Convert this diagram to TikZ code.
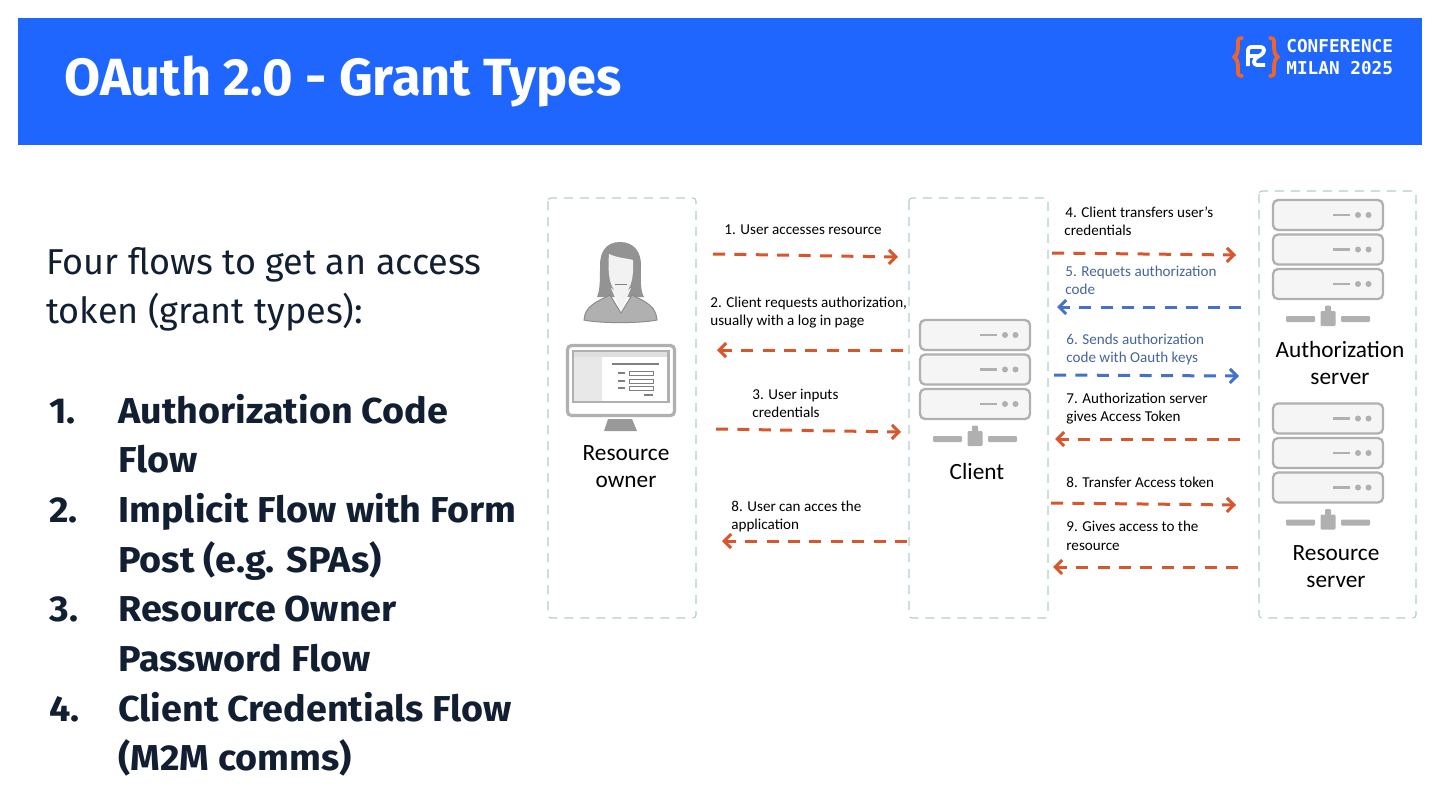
\documentclass[tikz,border=0pt]{standalone}
\usepackage{fontspec}
\setmainfont{Fira Sans}
\newfontfamily\itemf[FakeStretch=1.048]{Fira Sans}
\newfontfamily\lab{Carlito}
\newfontfamily\mon{DejaVu Sans Mono}
\usetikzlibrary{arrows.meta}
\definecolor{bannerblue}{HTML}{1F66FF}
\definecolor{inkdark}{HTML}{121F33}
\definecolor{boxline}{HTML}{B3CFCB}
\definecolor{flowor}{HTML}{D9552B}
\definecolor{flowbl}{HTML}{4472C4}
\definecolor{flowtxt}{HTML}{46659C}
\definecolor{srvgray}{HTML}{B0B0B0}
\definecolor{srvfill}{HTML}{F5F5F5}
\definecolor{logoor}{HTML}{F0642A}
\tikzset{
  x=0.5pt,y=-0.5pt,
  zone/.style={draw=boxline,line width=0.55pt,dash pattern=on 4.5pt off 3.5pt,rounded corners=1.5pt},
  flowline/.style={line width=1.5pt,dash pattern=on 6pt off 4.7pt,-{Straight Barb[length=3.5pt,width=7pt,line width=1.5pt]}},
  oflow/.style={flowline,draw=flowor},
  bflow/.style={flowline,draw=flowbl},
  lbl/.style={anchor=base west,inner sep=0pt,font=\lab\fontsize{7.55}{8}\selectfont,text=black},
  blbl/.style={lbl,text=flowtxt},
  actor/.style={anchor=base,inner sep=0pt,font=\lab\fontsize{11.65}{12}\selectfont,text=black},
  paratxt/.style={anchor=base west,inner sep=0pt,font=\fontsize{18}{20}\selectfont,text=inkdark},
  itemtxt/.style={anchor=base west,inner sep=0pt,font=\itemf\fontsize{18}{20}\selectfont\bfseries,text=inkdark},
  srow/.style={draw=srvgray,fill=srvfill,line width=1.15pt,rounded corners=2.5pt},
  sdet/.style={draw=srvgray,line width=1.1pt},
  logot/.style={anchor=base west,inner sep=0pt,font=\mon\bfseries\fontsize{8.85}{9}\selectfont,text=white},
  bracel/.style={draw=logoor,line width=1.9pt,line cap=round,line join=round},
  logoe/.style={draw=white,line width=1.9pt,line join=round,rounded corners=1.5pt},
}
\newcommand{\srvrow}[2]{% centre x, top y
  \draw[srow] (#1-55,#2) rectangle (#1+55,#2+30);
  \draw[sdet] (#1+5,#2+15) -- (#1+22,#2+15);
  \fill[srvgray] (#1+30,#2+15) circle (3) (#1+40.5,#2+15) circle (3);
}
\newcommand{\srvstack}[2]{% centre x, top y
  \srvrow{#1}{#2}\srvrow{#1}{#2+34.5}\srvrow{#1}{#2+69}
  \fill[srvgray,rounded corners=0.6pt] (#1-42,#2+116) rectangle (#1-13,#2+122);
  \fill[srvgray,rounded corners=0.6pt] (#1+13,#2+116) rectangle (#1+42,#2+122);
  \fill[srvgray,rounded corners=0.6pt] (#1-7.5,#2+111) rectangle (#1+7.5,#2+126);
  \fill[srvgray,rounded corners=0.6pt] (#1-3,#2+105.5) rectangle (#1+3,#2+112);
}
\begin{document}
\begin{tikzpicture}
\useasboundingbox (0,0) rectangle (1440,810);
\fill[white] (0,0) rectangle (1440,810);
\fill[bannerblue] (18,18) rectangle (1422,145);
\node[anchor=base west,inner sep=0pt,font=\fontsize{26.15}{28}\selectfont\bfseries,text=white] (title) at (64,95) {OAuth 2.0 - Grant Types};

% logo
\draw[bracel] (1242,38) .. controls (1237,38) and (1238,41) .. (1238,46) .. controls (1238,52) and (1237,55) .. (1234,57) .. controls (1237,59) and (1238,62) .. (1238,68) .. controls (1238,73) and (1237,76) .. (1242,76);
\draw[bracel] (1270,38) .. controls (1275,38) and (1274,41) .. (1274,46) .. controls (1274,52) and (1275,55) .. (1278,57) .. controls (1275,59) and (1274,62) .. (1274,68) .. controls (1274,73) and (1275,76) .. (1270,76);
\draw[logoe] (1248,66) -- (1248,47) -- (1264,47) -- (1264,53) -- (1254,59) -- (1254,65) -- (1265,65);
\draw[logoe] (1248,56) -- (1258,56);
\node[logot] (lg1) at (1286,52) {CONFERENCE};
\node[logot] (lg2) at (1286,74) {MILAN 2025};

% left text
\node[paratxt] (p1) at (46,274) {Four flows to get an access};
\node[paratxt] (p2) at (46,323) {token (grant types):};
\node[itemtxt] (n1) at (49,423) {1.};
\node[itemtxt] (t1a) at (118,423) {Authorization Code};
\node[itemtxt] (t1b) at (118,472) {Flow};
\node[itemtxt] (n2) at (49,522) {2.};
\node[itemtxt] (t2a) at (118,522) {Implicit Flow with Form};
\node[itemtxt] (t2b) at (118,572) {Post (e.g. SPAs)};
\node[itemtxt] (n3) at (49,621) {3.};
\node[itemtxt] (t3a) at (118,621) {Resource Owner};
\node[itemtxt] (t3b) at (118,671) {Password Flow};
\node[itemtxt] (n4) at (49,721) {4.};
\node[itemtxt] (t4a) at (118,721) {Client Credentials Flow};
\node[itemtxt] (t4b) at (118,770) {(M2M comms)};

% zones
\draw[zone] (548,198) rectangle (696,618);
\draw[zone] (909,198) rectangle (1048,618);
\draw[zone] (1259,191) rectangle (1416,618);

% person
\fill[gray!85] (620,242) .. controls (606,242) and (600,252) .. (600,265) .. controls (600,280) and (600,290) .. (597,297) -- (644,297) .. controls (640,290) and (641,280) .. (641,265) .. controls (641,252) and (634,242) .. (620,242) -- cycle;
\fill[srvgray,draw=gray!90,line width=0.5pt] (584,320) .. controls (585,306) and (596,302) .. (610,295) -- (621,313) -- (632,295) .. controls (646,302) and (656,306) .. (657,320) .. controls (640,323.5) and (600,323.5) .. (584,320) -- cycle;
\fill[gray!10] (609,254) .. controls (618,258) and (625,258) .. (633,260) .. controls (634,280) and (630,293) .. (621,294) .. controls (612,293) and (607,280) .. (609,254) -- cycle;
\fill[gray!10] (611,288) -- (621,312) -- (631,288) -- (621,294) -- cycle;
\draw[gray,line width=0.3pt] (615,284) -- (627,284);

% monitor
\draw[srvgray,line width=1.6pt,rounded corners=2pt,fill=white] (567.5,345.5) rectangle (674.5,415.5);
\fill[srvgray] (572,350) rectangle (670,403);
\fill[white] (574,357) rectangle (667,401);
\fill[gray!18] (574,357) rectangle (602,401);
\fill[gray!25] (574,352) rectangle (667,357);
\draw[gray,line width=0.7pt] (612,364) -- (659,364);
\draw[gray,line width=0.7pt] (618,373) -- (625,373) (618,381) -- (625,381) (618,388) -- (625,388);
\draw[gray,line width=0.5pt] (629,371) rectangle (653,375) (629,379) rectangle (653,383) (629,386) rectangle (653,390);
\draw[gray,line width=0.7pt] (644,395) -- (653,395);
\fill[gray!80] (608,419) -- (632,419) -- (637,431) -- (604,431) -- cycle;

% servers
\srvstack{975}{320}
\srvstack{1328}{200}
\srvstack{1328}{403.5}

% names
\node[actor] (roa) at (626,460) {Resource};
\node[actor] (rob) at (626,487) {owner};
\node[actor] (cl) at (977,479) {Client};
\node[actor] (aua) at (1340,357) {Authorization};
\node[actor] (aub) at (1340,384) {server};
\node[actor] (rsa) at (1336,560) {Resource};
\node[actor] (rsb) at (1336,587) {server};

% connector ends
\coordinate (a1s) at (713,254); \coordinate (a1e) at (898,257);
\coordinate (a2s) at (903,350); \coordinate (a2e) at (717,350);
\coordinate (a3s) at (716,429); \coordinate (a3e) at (901,432);
\coordinate (a8s) at (907,541); \coordinate (a8e) at (722,541);
\coordinate (b4s) at (1052,253); \coordinate (b4e) at (1236,255);
\coordinate (b5s) at (1241,307); \coordinate (b5e) at (1057,307);
\coordinate (b6s) at (1054,375); \coordinate (b6e) at (1239,376);
\coordinate (b7s) at (1240,439); \coordinate (b7e) at (1055,439);
\coordinate (b8s) at (1051,503); \coordinate (b8e) at (1236,505);
\coordinate (b9s) at (1238,567); \coordinate (b9e) at (1053,567);
\draw[oflow] (a1s) -- (a1e);
\draw[oflow] (a2s) -- (a2e);
\draw[oflow] (a3s) -- (a3e);
\draw[oflow] (a8s) -- (a8e);
\draw[oflow] (b4s) -- (b4e);
\draw[bflow] (b5s) -- (b5e);
\draw[bflow] (b6s) -- (b6e);
\draw[oflow] (b7s) -- (b7e);
\draw[oflow] (b8s) -- (b8e);
\draw[oflow] (b9s) -- (b9e);

% labels
\node[lbl] (l1) at (724,234) {1. User accesses resource};
\node[lbl] (l2a) at (710,307) {2. Client requests authorization,};
\node[lbl] (l2b) at (710,325) {usually with a log in page};
\node[lbl] (l3a) at (752,399) {3. User inputs};
\node[lbl] (l3b) at (752,417) {credentials};
\node[lbl] (l8a) at (731,511) {8. User can acces the};
\node[lbl] (l8b) at (731,529) {application};
\node[lbl] (l4a) at (1065,217) {4. Client transfers user’s};
\node[lbl] (l4b) at (1064,235) {credentials};
\node[blbl] (l5a) at (1065,276) {5. Requets authorization};
\node[blbl] (l5b) at (1065,294) {code};
\node[blbl] (l6a) at (1066,344) {6. Sends authorization};
\node[blbl] (l6b) at (1066,362) {code with Oauth keys};
\node[lbl] (l7a) at (1066,403) {7. Authorization server};
\node[lbl] (l7b) at (1066,421) {gives Access Token};
\node[lbl] (l8c) at (1066,487) {8. Transfer Access token};
\node[lbl] (l9a) at (1066,531) {9. Gives access to the};
\node[lbl] (l9b) at (1066,550) {resource};
\end{tikzpicture}
\end{document}
